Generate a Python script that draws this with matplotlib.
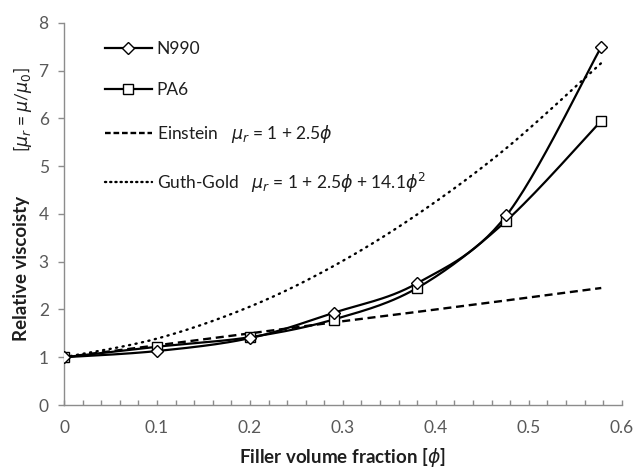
import numpy as np
import matplotlib
matplotlib.use("Agg")
import matplotlib.pyplot as plt
from matplotlib.lines import Line2D

# ---- data ----
phi = [0.0, 0.10, 0.20, 0.29, 0.38, 0.476, 0.578]
n990 = [1.0, 1.13, 1.40, 1.93, 2.55, 3.97, 7.50]
pa6 = [1.0, 1.22, 1.42, 1.79, 2.45, 3.86, 5.95]
einstein = [1.0, 1.25, 1.50, 1.73, 1.95, 2.19, 2.45]
guth_gold = [1.0, 1.39, 2.06, 2.91, 3.99, 5.38, 7.16]

xticks = [0, 0.1, 0.2, 0.3, 0.4, 0.5, 0.6]
xtick_labels = ["0", "0.1", "0.2", "0.3", "0.4", "0.5", "0.6"]
yticks = [0, 1, 2, 3, 4, 5, 6, 7, 8]

plt.rcParams["font.family"] = ["Lato", "DejaVu Sans"]
plt.rcParams["mathtext.fontset"] = "dejavusans"

TICK_COL = "#595959"
AX_COL = "#8c8c8c"
TXT_COL = "#1e1e1e"


def smooth(x, y, sx=9300.0, sy=47.75, n=30):
    """Excel-like smoothed line (Catmull-Rom / cubic Bezier), in pixel space."""
    P = np.column_stack([np.asarray(x) * sx, np.asarray(y) * sy])
    out = []
    for i in range(len(P) - 1):
        p0 = P[i - 1] if i > 0 else P[i]
        p1 = P[i]
        p2 = P[i + 1]
        p3 = P[i + 2] if i + 2 < len(P) else P[i + 1]
        c1 = p1 + (p2 - p0) / 6.0
        c2 = p2 - (p3 - p1) / 6.0
        t = np.linspace(0, 1, n)[:, None]
        seg = ((1 - t) ** 3) * p1 + 3 * ((1 - t) ** 2) * t * c1 + 3 * (1 - t) * t ** 2 * c2 + t ** 3 * p2
        out.append(seg if i == 0 else seg[1:])
    out = np.vstack(out)
    return out[:, 0] / sx, out[:, 1] / sy


fig = plt.figure(figsize=(6.37, 4.68), dpi=100)
ax = fig.add_axes([0.1005, 0.1346, 0.8755, 0.8164])

lw = 1.6
# Guth-Gold dotted
gx, gy = smooth(phi, guth_gold)
ax.plot(gx, gy, color="black", lw=1.7, linestyle=(0, (0.5, 2.3)), dash_capstyle="round", zorder=2)
# Einstein dashed
ax.plot(phi, einstein, color="black", lw=1.7, linestyle=(0, (3.4, 2.0)), zorder=2)
# PA6
px, py = smooth(phi, pa6)
ax.plot(px, py, color="black", lw=lw, zorder=3)
ax.plot(phi, pa6, linestyle="none", marker="s", markersize=7.0, markerfacecolor="white",
        markeredgecolor="black", markeredgewidth=1.0, zorder=4)
# N990
nx, ny = smooth(phi, n990)
ax.plot(nx, ny, color="black", lw=lw, zorder=3)
ax.plot(phi, n990, linestyle="none", marker="D", markersize=6.4, markerfacecolor="white",
        markeredgecolor="black", markeredgewidth=1.0, zorder=5)

ax.set_xlim(0, 0.6)
ax.set_ylim(0, 8)
ax.set_xticks(xticks)
ax.set_xticklabels(xtick_labels)
ax.set_xticks(np.arange(0, 0.6001, 0.02), minor=True)
ax.set_yticks(yticks)
ax.set_yticklabels([str(v) for v in yticks])

for s in ["top", "right"]:
    ax.spines[s].set_visible(False)
for s in ["left", "bottom"]:
    ax.spines[s].set_color(AX_COL)
    ax.spines[s].set_linewidth(1.0)

ax.tick_params(axis="x", which="both", direction="in", length=3.5, width=1.0, color=AX_COL,
               labelsize=12.5, labelcolor=TICK_COL, pad=11)
ax.tick_params(axis="y", which="major", direction="out", length=4, width=1.0, color=AX_COL,
               labelsize=12.5, labelcolor=TICK_COL, pad=7)
ax.tick_params(axis="y", which="minor", length=0)

ax.set_xlabel(r"Filler volume fraction [$\phi$]", fontsize=13.5, fontweight="bold", color=TXT_COL,
              labelpad=7)

# y-axis label in two parts
fig.text(22 / 637, 1 - 268 / 468, "Relative viscoisty", rotation=90, ha="center", va="center",
         fontsize=13.5, fontweight="bold", color=TXT_COL)
fig.text(22 / 637, 1 - 110 / 468, r"[$\mu_r$ = $\mu$/$\mu_0$]", rotation=90, ha="center", va="center",
         fontsize=12.5, color=TXT_COL)

# legend
handles = [
    Line2D([], [], color="black", lw=lw, marker="D", markersize=6.4, markerfacecolor="white",
           markeredgecolor="black", markeredgewidth=1.0),
    Line2D([], [], color="black", lw=lw, marker="s", markersize=7.0, markerfacecolor="white",
           markeredgecolor="black", markeredgewidth=1.0),
    Line2D([], [], color="black", lw=1.7, linestyle=(0, (2.4, 1.2))),
    Line2D([], [], color="black", lw=1.7, linestyle=(0, (0.5, 1.7)), dash_capstyle="round"),
]
labels = [
    "N990",
    "PA6",
    "Einstein   $\\mathit{\\mu_r}$ = 1 + 2.5$\\mathit{\\phi}$",
    "Guth-Gold   $\\mathit{\\mu_r}$ = 1 + 2.5$\\mathit{\\phi}$ + 14.1$\\mathit{\\phi}^2$",
]
leg = ax.legend(handles, labels, loc="upper left", bbox_to_anchor=(0.073, 0.953), frameon=False,
                fontsize=12.5, handlelength=2.7, handletextpad=0.3, labelspacing=1.45,
                borderpad=0, borderaxespad=0, numpoints=1, markerfirst=True)
for t in leg.get_texts():
    t.set_color(TXT_COL)

fig.savefig("out.png", dpi=100)
